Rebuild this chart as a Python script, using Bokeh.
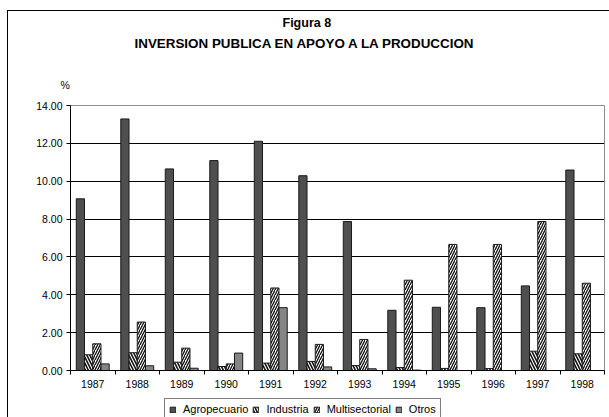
import numpy as np
from bokeh.plotting import figure
from bokeh.layouts import column
from bokeh.models import (ColumnDataSource, FixedTicker, NumeralTickFormatter,
                          Title, Legend, LegendItem, Range1d, InlineStyleSheet)
from bokeh.embed import file_html
from bokeh.resources import INLINE

# Public investment in support of production, % by sector
years = ["1987", "1988", "1989", "1990", "1991", "1992",
         "1993", "1994", "1995", "1996", "1997", "1998"]
agropecuario = [9.07, 13.29, 10.65, 11.09, 12.11, 10.29, 7.87, 3.18, 3.34, 3.32, 4.47, 10.59]
industria = [0.83, 0.94, 0.44, 0.21, 0.39, 0.48, 0.26, 0.16, 0.11, 0.10, 1.02, 0.88]
multisectorial = [1.41, 2.56, 1.18, 0.35, 4.36, 1.38, 1.64, 4.77, 6.66, 6.66, 7.87, 4.61]
otros = [0.35, 0.25, 0.12, 0.92, 3.32, 0.19, 0.09, 0.02, 0.0, 0.0, 0.0, 0.0]
series_names = ["Agropecuario", "Industria", "Multisectorial", "Otros"]
y_ticks = [0, 2, 4, 6, 8, 10, 12, 14]

FONT = "Liberation Sans"

# bar styles per series
styles = [
    dict(fill_color="#4f4f4f", line_color="#1a1a1a", line_width=1),
    dict(fill_color="white", hatch_pattern="\\", hatch_color="#111111",
         hatch_scale=6, hatch_weight=1.6, line_color="#1a1a1a", line_width=1),
    dict(fill_color="white", hatch_pattern="/", hatch_color="#111111",
         hatch_scale=5, hatch_weight=1.3, line_color="#1a1a1a", line_width=1),
    dict(fill_color="#858585", line_color="#1a1a1a", line_width=1),
]

p = figure(width=609, height=395, output_backend="svg", toolbar_location=None,
           x_range=Range1d(0, len(years)), y_range=Range1d(0, 14),
           min_border_left=70, min_border_right=5, min_border_top=105,
           min_border_bottom=25)
p.background_fill_color = "white"
p.border_fill_color = "white"
p.outline_line_color = "#8c8c8c"
p.outline_line_width = 1

# chart border: left and top edges
p.stylesheets = [InlineStyleSheet(css=(
    ":host::after{content:'';position:absolute;left:7px;top:10px;right:0;bottom:0;"
    "border-left:1px solid black;border-top:1px solid black;pointer-events:none;}"))]

centers = np.arange(len(years)) + 0.5
w = 0.185
offsets = [-1.5 * w, -0.5 * w, 0.5 * w, 1.5 * w]
series = [agropecuario, industria, multisectorial, otros]

src = ColumnDataSource(dict(
    x_a=centers + offsets[0], x_i=centers + offsets[1],
    x_m=centers + offsets[2], x_o=centers + offsets[3],
    agro=agropecuario, ind=industria, multi=multisectorial, otros=otros))

p.vbar(x="x_a", top="agro", width=w, source=src, **styles[0])
p.vbar(x="x_i", top="ind", width=w, source=src, **styles[1])
p.vbar(x="x_m", top="multi", width=w, source=src, **styles[2])
p.vbar(x="x_o", top="otros", width=w, source=src, **styles[3])

# y axis
p.yaxis.ticker = FixedTicker(ticks=y_ticks)
p.yaxis.formatter = NumeralTickFormatter(format="0.00")
p.yaxis.major_tick_out = 4
p.yaxis.major_tick_in = 0
p.yaxis.minor_tick_line_color = None
p.yaxis.axis_line_color = "black"
p.yaxis.major_tick_line_color = "black"
p.yaxis.major_label_text_font = FONT
p.yaxis.major_label_text_font_size = "10.5px"
p.yaxis.major_label_text_color = "black"
p.yaxis.major_label_standoff = 4

# x axis: labels at category centres, tick marks at category boundaries
p.xaxis.ticker = FixedTicker(ticks=list(centers),
                             minor_ticks=list(range(len(years) + 1)))
p.xaxis.major_label_overrides = {float(c): y for c, y in zip(centers, years)}
p.xaxis.major_tick_line_color = None
p.xaxis.minor_tick_out = 4
p.xaxis.minor_tick_in = 0
p.xaxis.minor_tick_line_color = "black"
p.xaxis.axis_line_color = "black"
p.xaxis.major_label_text_font = FONT
p.xaxis.major_label_text_font_size = "10.5px"
p.xaxis.major_label_text_color = "black"
p.xaxis.major_label_standoff = 3

p.xgrid.visible = False
p.ygrid.ticker = FixedTicker(ticks=y_ticks[1:-1])
p.ygrid.grid_line_color = "black"
p.ygrid.grid_line_width = 1

# titles (first added sits nearest the frame)
p.add_layout(Title(text="%", align="left", offset=-10, text_font=FONT,
                   text_font_size="10.5px", text_font_style="normal",
                   text_color="black", standoff=30), "above")
p.add_layout(Title(text="INVERSION PUBLICA EN APOYO A LA PRODUCCION",
                   align="left", offset=64, text_font=FONT,
                   text_font_size="13.4px", text_font_style="bold",
                   text_color="black", standoff=21), "above")
p.add_layout(Title(text="Figura 8", align="left", offset=212, text_font=FONT,
                   text_font_size="12.5px", text_font_style="bold",
                   text_color="black", standoff=-12), "above")

# legend strip under the chart; its series sit far outside the visible ranges
lg = figure(width=609, height=22, output_backend="svg", toolbar_location=None,
            x_range=Range1d(1000, 1001), y_range=Range1d(1000, 1001),
            x_axis_location=None, y_axis_location=None,
            min_border=0)
lg.outline_line_color = None
lg.grid.visible = False
lg.border_fill_color = "white"
lg.background_fill_color = "white"
lg.stylesheets = [InlineStyleSheet(css=(
    ":host::after{content:'';position:absolute;left:7px;top:0;right:0;bottom:0;"
    "border-left:1px solid black;pointer-events:none;}"))]

items = []
for name, vals, off, st in zip(series_names, series, offsets, styles):
    r = lg.vbar(x=centers + off, top=vals, width=w, **st)
    items.append(LegendItem(label=name, renderers=[r]))

legend = Legend(items=items, orientation="horizontal", location=(94, -3))
legend.border_line_color = "black"
legend.border_line_width = 1
legend.background_fill_color = "white"
legend.background_fill_alpha = 1
legend.label_text_font = FONT
legend.label_text_font_size = "11px"
legend.label_text_color = "black"
legend.label_standoff = 7
legend.glyph_width = 7
legend.glyph_height = 7
legend.label_height = 12
legend.spacing = 4
legend.padding = 4
legend.margin = 0
lg.add_layout(legend, "center")

open("out.html", "w").write(file_html(column(p, lg, spacing=0), INLINE))
